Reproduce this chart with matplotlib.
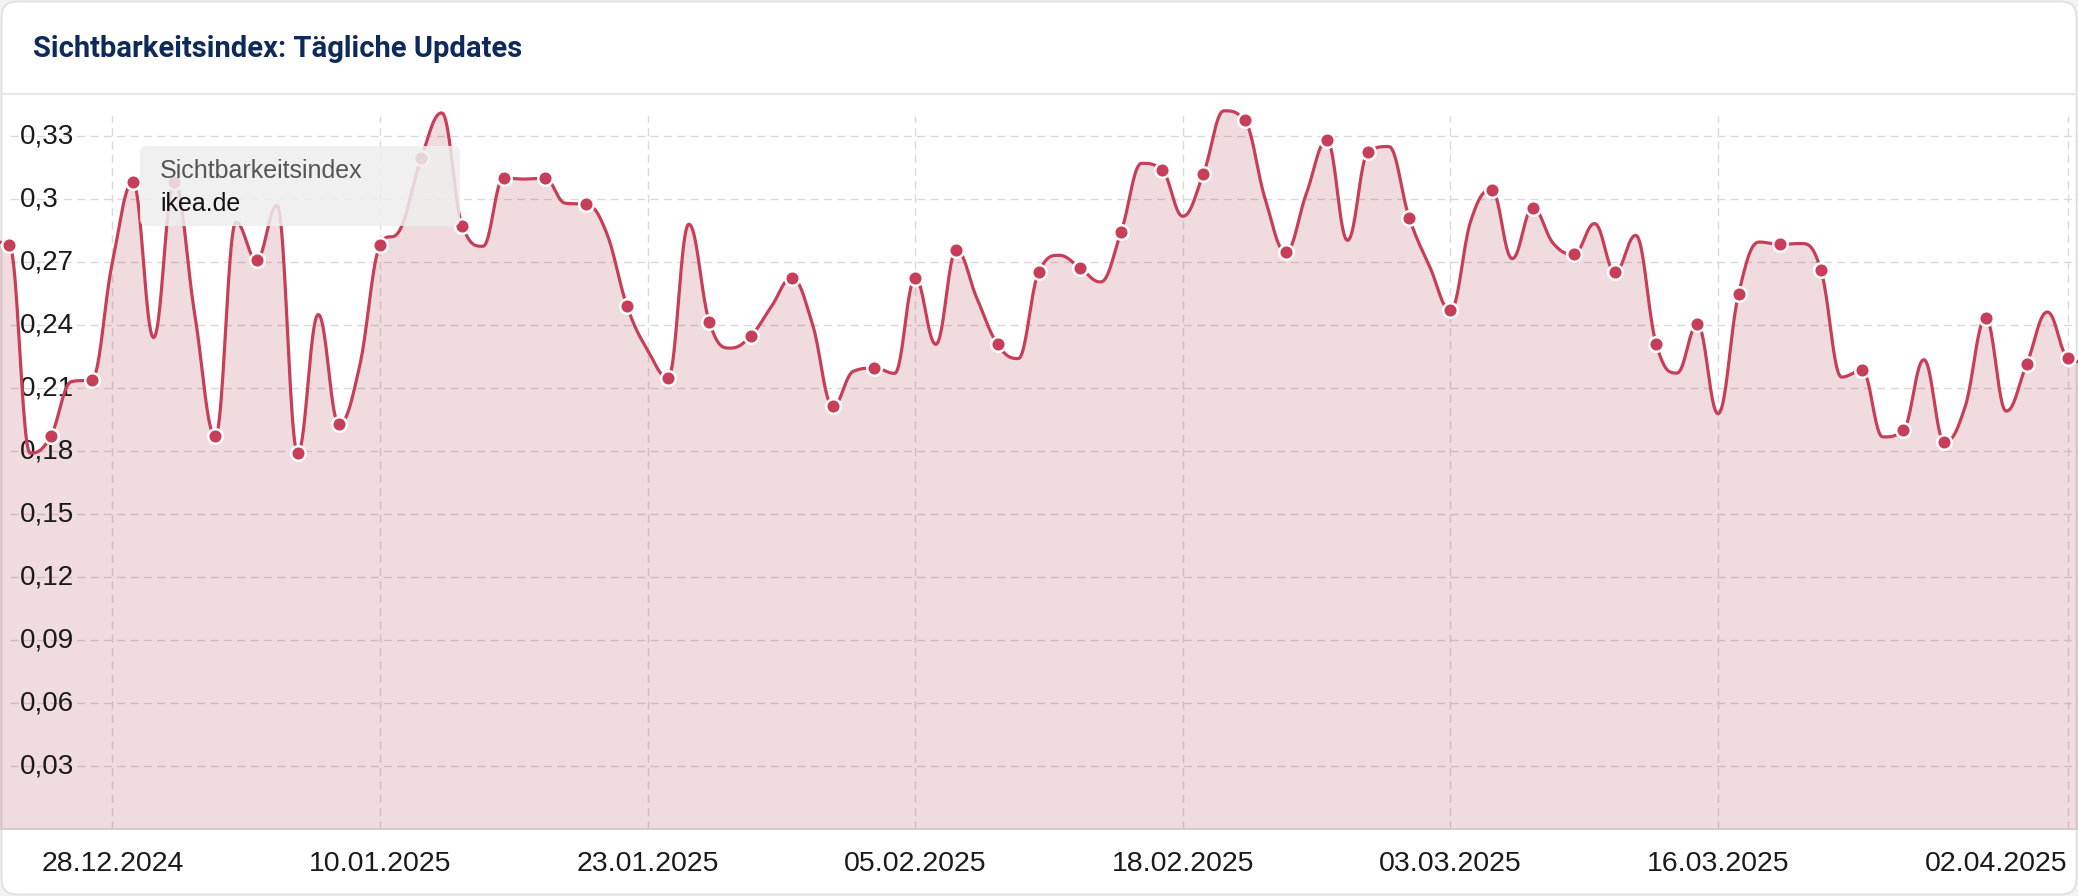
import numpy as np
import pandas as pd
import matplotlib
matplotlib.use("Agg")
import matplotlib.pyplot as plt
import matplotlib.dates as mdates
from matplotlib.patches import FancyBboxPatch
from matplotlib.lines import Line2D
from matplotlib.transforms import IdentityTransform

# daily values 22.12.2024 - 03.04.2025
start_date = "2024-12-22"
values = [
    0.280,
    0.278, 0.179, 0.187, 0.213, 0.214, 0.270, 0.308, 0.234, 0.308, 0.245,
    0.187, 0.289, 0.271, 0.297, 0.179, 0.245, 0.193, 0.220, 0.278, 0.286,
    0.3195, 0.341, 0.287, 0.2775, 0.310, 0.3095, 0.310, 0.298, 0.2975, 0.284,
    0.249, 0.228, 0.215, 0.288, 0.2414, 0.229, 0.2346, 0.2486, 0.2624, 0.2407,
    0.2014, 0.218, 0.2195, 0.217, 0.2624, 0.2308, 0.2756, 0.2526, 0.2308, 0.224,
    0.2652, 0.2732, 0.2672, 0.2605, 0.2843, 0.317, 0.3137, 0.2918, 0.3121, 0.342,
    0.3375, 0.300, 0.2748, 0.3026, 0.328, 0.2803, 0.3224, 0.325, 0.291, 0.2676,
    0.247, 0.290, 0.3045, 0.2716, 0.2957, 0.2788, 0.2737, 0.2883, 0.2652, 0.2827,
    0.2308, 0.2171, 0.2403, 0.1978, 0.255, 0.2795, 0.2784, 0.2788, 0.2661, 0.2152,
    0.2184, 0.1867, 0.1899, 0.2235, 0.1843, 0.201, 0.2433, 0.199, 0.2216, 0.2462,
    0.2243, 0.222,
]
tick_dates = ["2024-12-28", "2025-01-10", "2025-01-23", "2025-02-05",
              "2025-02-18", "2025-03-03", "2025-03-16", "2025-04-02"]
y_ticks = [0.03, 0.06, 0.09, 0.12, 0.15, 0.18, 0.21, 0.24, 0.27, 0.30, 0.33]
y_labels = ["0,03", "0,06", "0,09", "0,12", "0,15", "0,18", "0,21", "0,24", "0,27", "0,3", "0,33"]

title = "Sichtbarkeitsindex: Tägliche Updates"
tooltip_series = "Sichtbarkeitsindex"
tooltip_domain = "ikea.de"

LINE = "#c73e58"
FILL = "#b4505f"
GRID = "#d9d9d9"

W, H = 2078, 896


def hc_spline(xs, ys, smoothing=1.5, steps=24):
    # highcharts-like spline: smooth control points, clamped so no overshoot
    n = len(xs)
    lc = [(xs[i], ys[i]) for i in range(n)]
    rc = [(xs[i], ys[i]) for i in range(n)]
    d = smoothing + 1
    for i in range(1, n - 1):
        px, py = xs[i], ys[i]
        lx, ly = xs[i - 1], ys[i - 1]
        nx, ny = xs[i + 1], ys[i + 1]
        lcx = (smoothing * px + lx) / d
        lcy = (smoothing * py + ly) / d
        rcx = (smoothing * px + nx) / d
        rcy = (smoothing * py + ny) / d
        if rcx != lcx:
            corr = (rcy - lcy) * (rcx - px) / (rcx - lcx) + py - rcy
            lcy += corr
            rcy += corr
        if lcy > ly and lcy > py:
            lcy = max(ly, py)
            rcy = 2 * py - lcy
        elif lcy < ly and lcy < py:
            lcy = min(ly, py)
            rcy = 2 * py - lcy
        if rcy > ny and rcy > py:
            rcy = max(ny, py)
            lcy = 2 * py - rcy
        elif rcy < ny and rcy < py:
            rcy = min(ny, py)
            lcy = 2 * py - rcy
        lc[i] = (lcx, lcy)
        rc[i] = (rcx, rcy)
    t = np.linspace(0, 1, steps)[:-1, None]
    pts = []
    for i in range(1, n):
        p0 = np.array([xs[i - 1], ys[i - 1]])
        p1 = np.array(rc[i - 1])
        p2 = np.array(lc[i])
        p3 = np.array([xs[i], ys[i]])
        b = ((1 - t) ** 3) * p0 + 3 * ((1 - t) ** 2) * t * p1 + 3 * (1 - t) * t ** 2 * p2 + t ** 3 * p3
        pts.append(b)
    pts.append(np.array([[xs[-1], ys[-1]]]))
    pts = np.vstack(pts)
    return pts[:, 0], pts[:, 1]


dates = pd.date_range(start_date, periods=len(values), freq="D")
x = mdates.date2num(dates.to_pydatetime())
y = np.array(values)
sx, sy = hc_spline(list(x), list(y))

fig = plt.figure(figsize=(W / 100, H / 100), dpi=100)
fig.patch.set_facecolor("#f3f3f3")

# card
card = FancyBboxPatch((1.5, 1.5), W - 3, H - 3, boxstyle="round,pad=0,rounding_size=16",
                      transform=IdentityTransform(), facecolor="white", edgecolor="#dedede",
                      linewidth=1.2, zorder=-10)
fig.patches.append(card)
card.set_figure(fig)

fig.text(33 / W, 1 - 49 / H, title, fontsize=21, fontweight="bold", color="#0e2a5a",
         family="Roboto", va="center", ha="left")
fig.add_artist(Line2D([0, 1], [1 - 94 / H, 1 - 94 / H], transform=fig.transFigure,
                      color="#e8e8e8", linewidth=1.6))

ax_bottom, ax_top = 829, 106
ax = fig.add_axes([0, 1 - ax_bottom / H, 1, (ax_bottom - ax_top) / H])
ax.set_facecolor("none")

px_per_day = (2068 - 30.1) / 99.0   # 23.12 .. 02.04
x0 = mdates.date2num(pd.Timestamp("2024-12-23"))
ax.set_xlim(x0 - 9.5 / px_per_day, x0 + (W - 9.5) / px_per_day)
ax.set_ylim(0, (ax_bottom - ax_top) * 0.0004762)

# grid
for v in y_ticks:
    ax.axhline(v, xmin=10 / W, xmax=1, color=GRID, linewidth=1.0, linestyle=(0, (5.8, 3.8)), zorder=1)
tick_x = mdates.date2num(pd.to_datetime(tick_dates).to_pydatetime())
for tx in tick_x:
    ax.axvline(tx, ymin=0, ymax=(ax_bottom - 116) / (ax_bottom - ax_top), color=GRID,
               linewidth=1.0, linestyle=(0, (5.8, 3.8)), zorder=1)

# series
ax.fill_between(sx, sy, 0, color=FILL, alpha=0.2, linewidth=0, zorder=2)
ax.plot(sx, sy, color=LINE, linewidth=2.3, zorder=3, solid_capstyle="round")
ax.plot(x[1:-1:2], y[1:-1:2], "o", color=LINE, markersize=10.5, markeredgecolor="white",
        markeredgewidth=1.8, zorder=4, clip_on=False)

# y labels inside plot
for v, lab in zip(y_ticks, y_labels):
    ax.text(20 / W, v, lab, transform=ax.get_yaxis_transform(), fontsize=20, color="#1a1a1a",
            family="Liberation Sans", va="center", ha="left", zorder=2.5)

for s in ["top", "left", "right"]:
    ax.spines[s].set_visible(False)
ax.spines["bottom"].set_color("#d2cacc")
ax.spines["bottom"].set_linewidth(1.4)
ax.set_yticks([])
ax.set_xticks(tick_x)
ax.set_xticklabels([d.strftime("%d.%m.%Y") for d in pd.to_datetime(tick_dates)],
                   fontsize=20.5, color="#1a1a1a", family="Liberation Sans")
ax.tick_params(axis="x", length=0, pad=16)
ax.get_xticklabels()[-1].set_ha("right")
ax.get_xticklabels()[-1].set_x(tick_x[-1])

# tooltip overlay
tip = FancyBboxPatch((140, H - 226), 320, 80, boxstyle="round,pad=0,rounding_size=7",
                     transform=IdentityTransform(), facecolor="#eeeeee", edgecolor="none",
                     alpha=0.85, zorder=10)
fig.patches.append(tip)
tip.set_figure(fig)
fig.text(160 / W, 1 - 171 / H, tooltip_series, fontsize=18, color="#555555",
         family="Liberation Sans", va="center", ha="left", zorder=11)
fig.text(160 / W, 1 - 204 / H, tooltip_domain, fontsize=18, color="#111111",
         family="Liberation Sans", va="center", ha="left", zorder=11)

fig.savefig("out.png", dpi=100, facecolor=fig.get_facecolor())
